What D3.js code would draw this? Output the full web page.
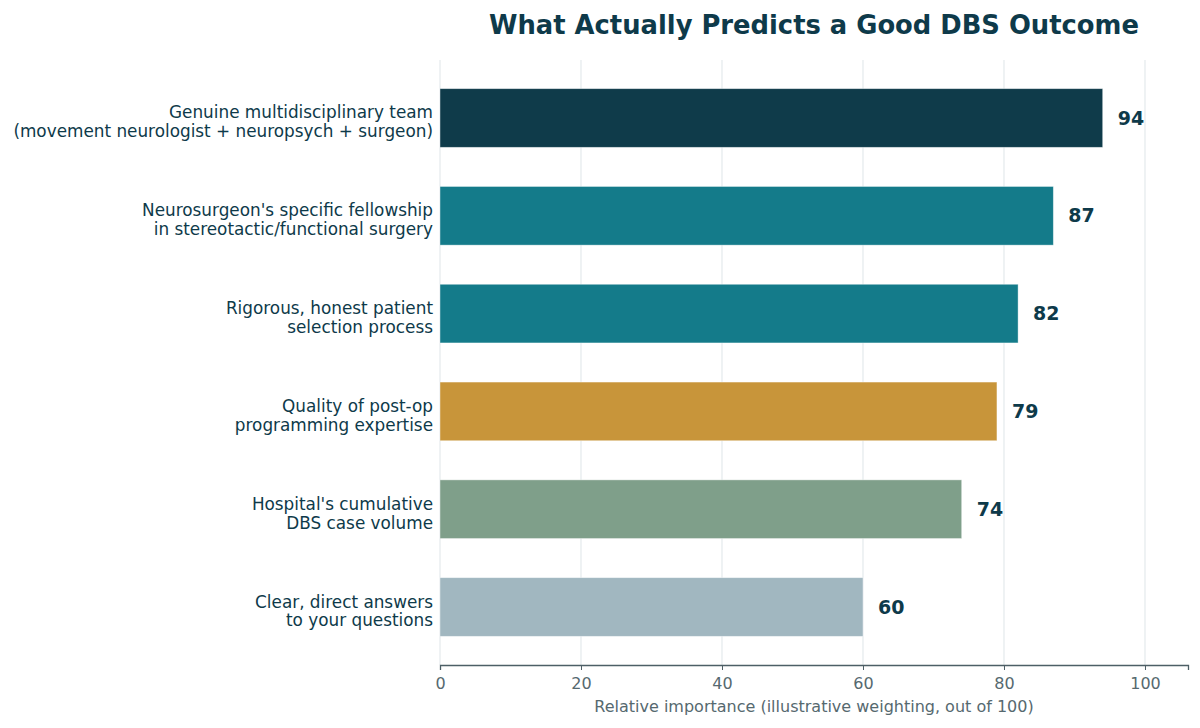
<!DOCTYPE html>
<html>
<head>
<meta charset="utf-8">
<title>What Actually Predicts a Good DBS Outcome</title>
<script src="https://d3js.org/d3.v7.min.js"></script>
<style>
  body { margin: 0; background: #fff; }
  svg { font-family: "DejaVu Sans", sans-serif; display: block; }
</style>
</head>
<body>
<svg id="chart"></svg>
<script>
const categories = [
  ["Genuine multidisciplinary team", "(movement neurologist + neuropsych + surgeon)"],
  ["Neurosurgeon's specific fellowship", "in stereotactic/functional surgery"],
  ["Rigorous, honest patient", "selection process"],
  ["Quality of post-op", "programming expertise"],
  ["Hospital's cumulative", "DBS case volume"],
  ["Clear, direct answers", "to your questions"]
];
const values = [94, 87, 82, 79, 74, 60];
const barColors = ["#0f3b4a", "#147b8a", "#147b8a", "#c8953a", "#7f9f8a", "#a1b7c0"];
const xTicks = [0, 20, 40, 60, 80, 100];

const width = 1200, height = 728;
const margin = { top: 60, right: 12, bottom: 63, left: 440 };

const svg = d3.select("#chart").attr("width", width).attr("height", height);

const x = d3.scaleLinear().domain([0, 106.1]).range([margin.left, width - margin.right]);
const y = d3.scaleBand()
    .domain(d3.range(categories.length))
    .range([margin.top, height - margin.bottom])
    .paddingInner(0.4)
    .paddingOuter(0.293);

// grid
svg.append("g").selectAll("line")
    .data(xTicks)
    .enter().append("line")
    .attr("x1", d => x(d)).attr("x2", d => x(d))
    .attr("y1", margin.top).attr("y2", height - margin.bottom)
    .attr("stroke", "#dfe5e8").attr("stroke-width", 1);

// bars
svg.append("g").selectAll("rect")
    .data(values)
    .enter().append("rect")
    .attr("x", x(0))
    .attr("y", (d, i) => y(i))
    .attr("width", d => x(d) - x(0))
    .attr("height", y.bandwidth())
    .attr("fill", (d, i) => barColors[i])
    .attr("stroke", "#ffffff").attr("stroke-opacity", 0.5).attr("stroke-width", 0.8);

// value labels
svg.append("g").selectAll("text")
    .data(values)
    .enter().append("text")
    .attr("x", d => x(d) + 15)
    .attr("y", (d, i) => y(i) + y.bandwidth() / 2)
    .attr("dy", "0.35em")
    .attr("font-size", 19).attr("font-weight", "bold")
    .attr("fill", "#0e3a4a")
    .text(d => d);

// category labels (two lines each)
const labels = svg.append("g").selectAll("text")
    .data(categories)
    .enter().append("text")
    .attr("text-anchor", "end")
    .attr("font-size", 16.85)
    .attr("fill", "#0e3a4a");
labels.each(function(d, i) {
    const c = y(i) + y.bandwidth() / 2;
    d3.select(this).selectAll("tspan")
        .data(d)
        .enter().append("tspan")
        .attr("x", 433)
        .attr("y", (t, j) => c + 0.5 + j * 18.8)
        .text(t => t);
});

// x axis
const xAxis = svg.append("g")
    .attr("transform", `translate(0,${height - margin.bottom})`)
    .call(d3.axisBottom(x).tickValues(xTicks).tickSize(5).tickPadding(8));
xAxis.select(".domain").attr("stroke", "#4d5f66").attr("stroke-width", 1.3);
xAxis.selectAll(".tick line").attr("stroke", "#4d5f66");
xAxis.selectAll(".tick text")
    .attr("font-size", 16).attr("fill", "#56696f")
    .attr("font-family", "DejaVu Sans, sans-serif");

svg.append("text")
    .attr("x", (x(0) + x(106.1)) / 2)
    .attr("y", 712)
    .attr("text-anchor", "middle")
    .attr("font-size", 16).attr("fill", "#56696f")
    .text("Relative importance (illustrative weighting, out of 100)");

svg.append("text")
    .attr("x", (x(0) + x(106.1)) / 2)
    .attr("y", 34)
    .attr("text-anchor", "middle")
    .attr("font-size", 25.8).attr("font-weight", "bold")
    .attr("fill", "#0e3a4a")
    .text("What Actually Predicts a Good DBS Outcome");
</script>
</body>
</html>
